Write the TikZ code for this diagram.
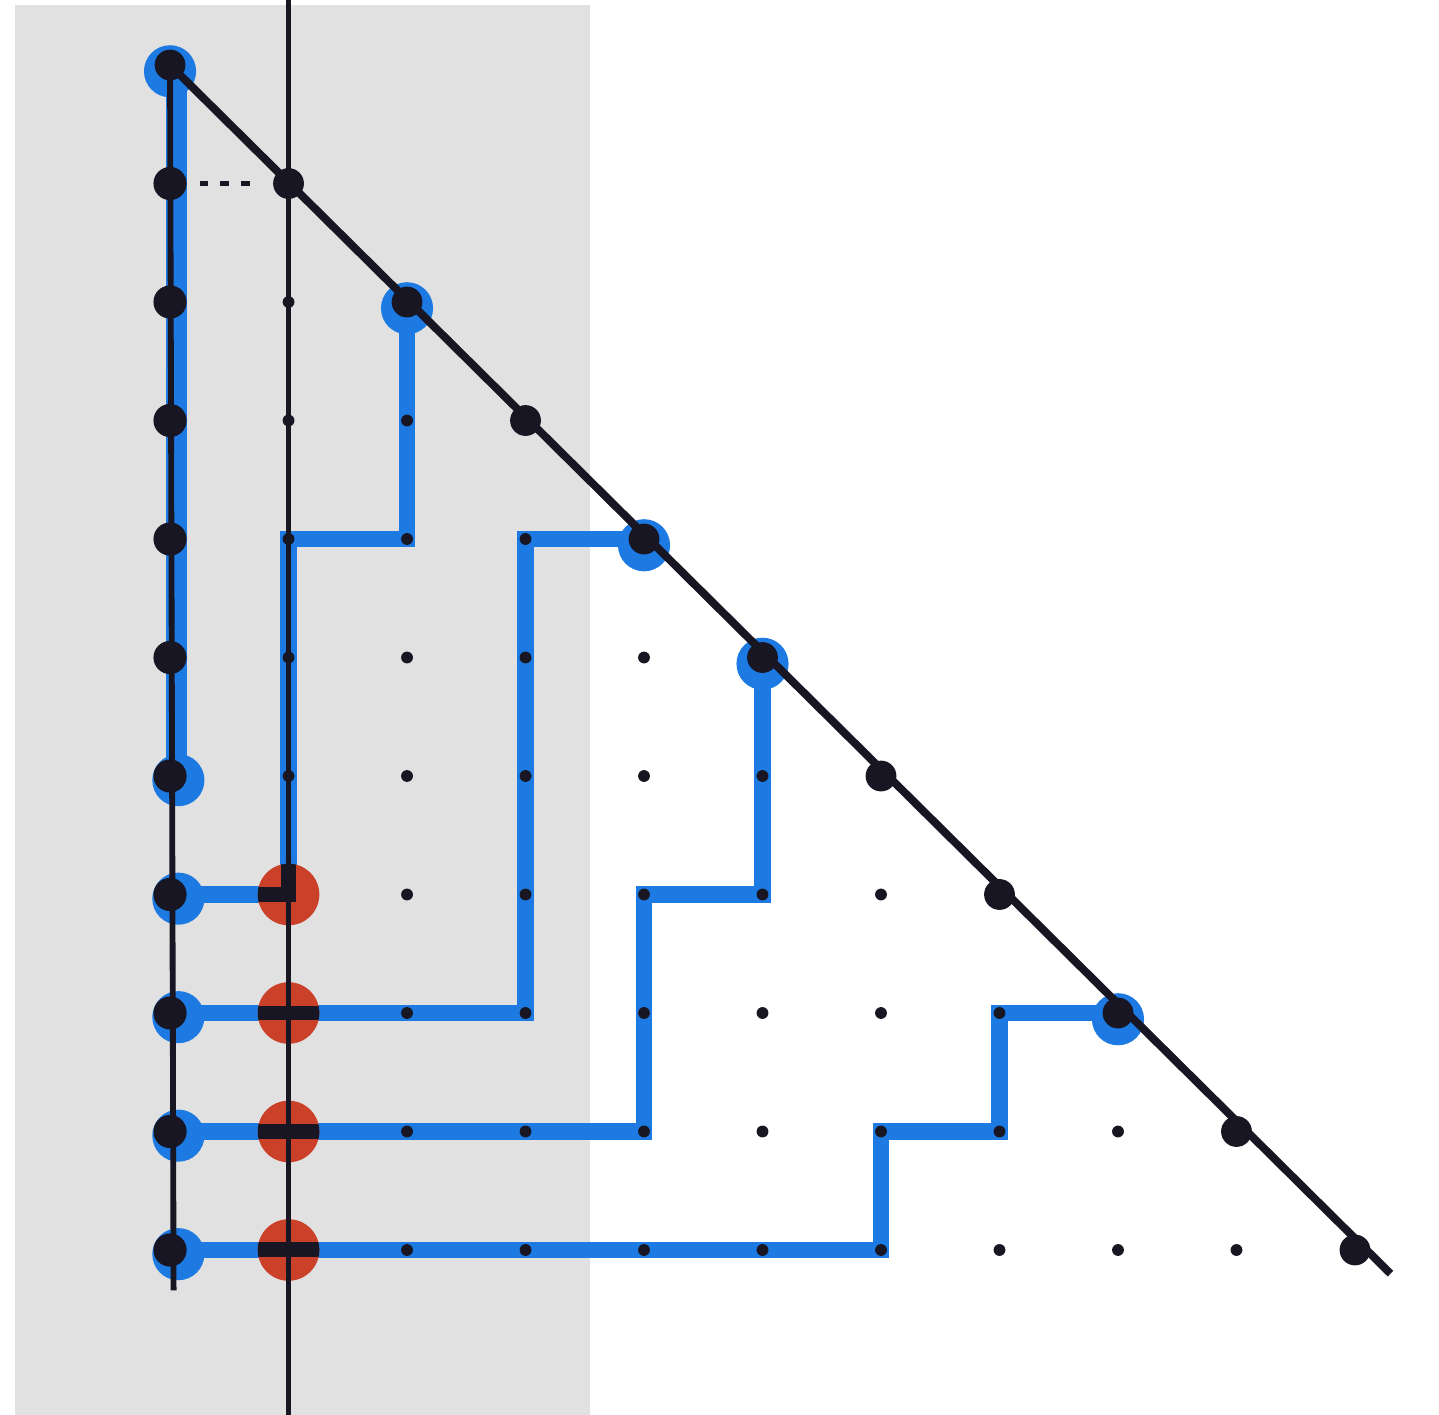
\documentclass[tikz,border=0pt]{standalone}
\usepackage{tikz}
\usetikzlibrary{arrows.meta}

\definecolor{paper}{RGB}{225,225,225}
\definecolor{ink}{RGB}{24,22,34}
\definecolor{marker}{RGB}{28,122,226}
\definecolor{redmark}{RGB}{202,64,40}

\begin{document}
\begin{tikzpicture}[
    route/.style={marker, line width=3.9pt, line join=miter},
    overlay ink/.style={ink, line width=3.6pt, line join=miter},
    blob/.style={fill=marker},
    redblob/.style={fill=redmark},
    bigdot/.style={fill=ink},
    smalldot/.style={fill=ink},
    pen/.style={ink, line width=1.1pt}
]
        % we fix the grid points (column i, row j)
        \foreach \i in {0,...,10}
            \foreach \j in {0,...,10}
                \coordinate (p\i-\j) at (\i,-\j);
        \coordinate (top1) at (1,0.55);
        \coordinate (bot1) at (1,-11.39);
        \coordinate (end0) at (0.03,-10.34);
        \coordinate (enddiag) at (10.3,-10.2);

        \useasboundingbox (-1.435,0.549) rectangle (10.709,-11.392);

        % we shade the paper strip
        \fill[paper] (-1.31,0.51) rectangle (3.545,-11.392);

        % we draw the blue routes
        \draw[route, line width=5pt] ([xshift=1.5pt]p0-0) -- ([xshift=1.5pt]p0-6);
        \draw[route] (p2-2) -- (p2-4) -- (p1-4) -- (p1-7) -- (p0-7);
        \draw[route] (p4-4) -- (p3-4) -- (p3-8) -- (p0-8);
        \draw[route] (p5-5) -- (p5-7) -- (p4-7) -- (p4-9) -- (p0-9);
        \draw[route] (p8-8) -- (p7-8) -- (p7-9) -- (p6-9) -- (p6-10) -- (p0-10);

        % we add the blue blobs
        \foreach \p in {p0-0,p2-2,p4-4,p5-5,p8-8}
            \fill[blob] ([yshift=-1.5pt]\p) circle (0.22);
        \foreach \p in {p0-6,p0-7,p0-8,p0-9,p0-10}
            \fill[blob] ([xshift=2pt,yshift=-1pt]\p) circle (0.22);

        % we add the red circles
        \foreach \j in {7,...,10}
            \fill[redblob] (p1-\j) circle (0.26);

        % blue over red turns dark
        \begin{scope}
            \clip (p1-7) circle (0.26) (p1-8) circle (0.26)
                  (p1-9) circle (0.26) (p1-10) circle (0.26);
            \draw[overlay ink] (p1-4) -- (p1-7) -- (p0-7);
            \draw[overlay ink] (p3-8) -- (p0-8);
            \draw[overlay ink] (p4-9) -- (p0-9);
            \draw[overlay ink] (p6-10) -- (p0-10);
        \end{scope}

        % we draw the black lines
        \draw[pen] (top1) -- (bot1);
        \draw[pen, line width=1.4pt] (p0-0) -- (end0);
        \draw[pen, line width=1.9pt] (p0-0) -- (enddiag);
        \draw[ink, line width=1.4pt, dash pattern=on 2pt off 3pt, shorten <=0.25cm, shorten >=0.25cm] (p0-1) -- (p1-1);

        % we put the big dots
        \foreach \i in {0,...,10}
            \fill[bigdot] (p\i-\i) circle (0.13);
        \foreach \j in {1,...,10}
            \fill[bigdot] (p0-\j) circle (0.14);

        % we put the small dots below the diagonal
        \foreach \j [evaluate=\j as \k using int(\j-1)] in {2,...,10}
            \foreach \i in {1,...,\k}
                \fill[smalldot] (p\i-\j) circle (0.05);
    \end{tikzpicture}
\end{document}
